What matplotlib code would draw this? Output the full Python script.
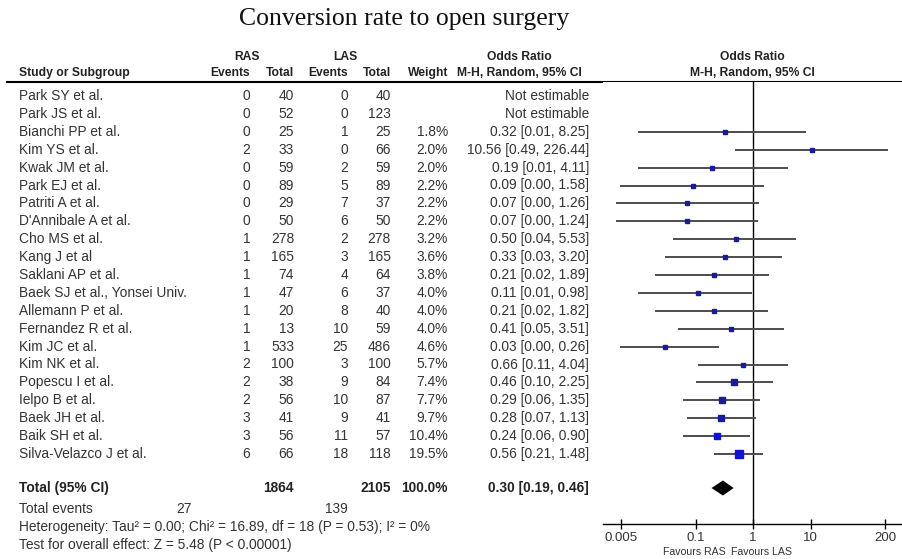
import numpy as np
import matplotlib
matplotlib.use("Agg")
import matplotlib.pyplot as plt
import matplotlib.transforms as mtransforms

studies = ["Park SY et al.", "Park JS et al.", "Bianchi PP et al.", "Kim YS et al.",
           "Kwak JM et al.", "Park EJ et al.", "Patriti A et al.", "D'Annibale A et al.",
           "Cho MS et al.", "Kang J et al", "Saklani AP et al.", "Baek SJ et al., Yonsei Univ.",
           "Allemann P et al.", "Fernandez R et al.", "Kim JC et al.", "Kim NK et al.",
           "Popescu I et al.", "Ielpo B et al.", "Baek JH et al.", "Baik SH et al.",
           "Silva-Velazco J et al."]
ras_events = [0, 0, 0, 2, 0, 0, 0, 0, 1, 1, 1, 1, 1, 1, 1, 2, 2, 2, 3, 3, 6]
ras_total = [40, 52, 25, 33, 59, 89, 29, 50, 278, 165, 74, 47, 20, 13, 533, 100, 38, 56, 41, 56, 66]
las_events = [0, 0, 1, 0, 2, 5, 7, 6, 2, 3, 4, 6, 8, 10, 25, 3, 9, 10, 9, 11, 18]
las_total = [40, 123, 25, 66, 59, 89, 37, 50, 278, 165, 64, 37, 40, 59, 486, 100, 84, 87, 41, 57, 118]
weights = [np.nan, np.nan, 1.8, 2.0, 2.0, 2.2, 2.2, 2.2, 3.2, 3.6, 3.8, 4.0, 4.0, 4.0, 4.6, 5.7,
           7.4, 7.7, 9.7, 10.4, 19.5]
odds = [np.nan, np.nan, 0.32, 10.56, 0.19, 0.09, 0.07, 0.07, 0.50, 0.33, 0.21, 0.11, 0.21, 0.41,
        0.03, 0.66, 0.46, 0.29, 0.28, 0.24, 0.56]
ci_low = [np.nan, np.nan, 0.01, 0.49, 0.01, 0.0049, 0.0041, 0.0041, 0.04, 0.03, 0.02, 0.01, 0.02,
          0.05, 0.0049, 0.11, 0.10, 0.06, 0.07, 0.06, 0.21]
ci_high = [np.nan, np.nan, 8.25, 226.44, 4.11, 1.58, 1.26, 1.24, 5.53, 3.20, 1.89, 0.98, 1.82, 3.51,
           0.26, 4.04, 2.25, 1.35, 1.13, 0.90, 1.48]
pooled = (0.30, 0.19, 0.46)
heterogeneity = "Heterogeneity: Tau\u00b2 = 0.00; Chi\u00b2 = 16.89, df = 18 (P = 0.53); I\u00b2 = 0%"
overall = "Test for overall effect: Z = 5.48 (P < 0.00001)"
ticks = [0.005, 0.1, 1, 10, 200]
tick_labels = ["0.005", "0.1", "1", "10", "200"]

W, H = 902, 559
plt.rcParams["font.family"] = ["Liberation Sans", "DejaVu Sans"]
fig = plt.figure(figsize=(W / 100, H / 100), dpi=100)

# full-figure axes in pixel units for the table
tab = fig.add_axes([0, 0, 1, 1])
tab.set_xlim(0, W)
tab.set_ylim(H, 0)
tab.axis("off")

# forest panel
px_left, px_right, px_top, px_bottom = 603, 902, 82, 524
ax = fig.add_axes([px_left / W, 1 - px_bottom / H, (px_right - px_left) / W, (px_bottom - px_top) / H])
ax.set_xscale("log")
decade = 57.5
ax.set_xlim(10 ** ((px_left - 753) / decade), 10 ** ((px_right - 753) / decade))
row0, step = 96, 17.9
ax.set_ylim((px_bottom - row0) / step, (px_top - row0) / step)
for s in ["top", "left", "right"]:
    ax.spines[s].set_visible(False)
ax.spines["bottom"].set_linewidth(1.0)
ax.set_yticks([])
ax.set_xticks(ticks)
ax.set_xticklabels(tick_labels)
ax.minorticks_off()
ax.tick_params(axis="x", direction="inout", length=7, width=1.0, pad=2, labelsize=9.5,
               labelcolor="#333333")
ax.axvline(1, color="black", lw=1.0)

rows = np.arange(len(studies))
ax.hlines(rows, ci_low, ci_high, color="#4d4d4d", lw=1.4)
for i, w in enumerate(weights):
    if np.isnan(w):
        continue
    side = 1.4 * np.sqrt(w) + 1.3
    col = "#1a1aa0" if w < 10 else "#1010d8"
    ax.plot(odds[i], i, marker="s", ms=side * 0.72, color=col, mec=col, zorder=3)

total_row = 21.9
est, lo, hi = pooled
ax.fill([lo, est, hi, est], [total_row, total_row - 0.42, total_row, total_row + 0.42],
        color="black", lw=0)

trans = mtransforms.blended_transform_factory(tab.transData, ax.transData)
txt = "#333333"
fs = 9.9
for i, name in enumerate(studies):
    ax.text(19, i, name, transform=trans, ha="left", va="center", fontsize=fs, color=txt)
    ax.text(250, i, str(ras_events[i]), transform=trans, ha="right", va="center", fontsize=fs, color=txt)
    ax.text(294, i, str(ras_total[i]), transform=trans, ha="right", va="center", fontsize=fs, color=txt)
    ax.text(348, i, str(las_events[i]), transform=trans, ha="right", va="center", fontsize=fs, color=txt)
    ax.text(391, i, str(las_total[i]), transform=trans, ha="right", va="center", fontsize=fs, color=txt)
    if np.isnan(weights[i]):
        ci_txt = "Not estimable"
    else:
        ax.text(448, i, f"{weights[i]:.1f}%", transform=trans, ha="right", va="center",
                fontsize=fs, color=txt)
        ci_txt = f"{odds[i]:.2f} [{ci_low[i]:.2f}, {ci_high[i]:.2f}]"
    ax.text(589, i, ci_txt, transform=trans, ha="right", va="center", fontsize=fs, color=txt)

# totals
bold = dict(transform=trans, va="center", fontsize=fs, color="#222222", fontweight="bold")
ax.text(19, total_row, "Total (95% CI)", ha="left", **bold)
ax.text(294, total_row, str(sum(ras_total)), ha="right", **bold)
ax.text(391, total_row, str(sum(las_total)), ha="right", **bold)
ax.text(448, total_row, "100.0%", ha="right", **bold)
ax.text(589, total_row, f"{est:.2f} [{lo:.2f}, {hi:.2f}]", ha="right", **bold)
ax.text(19, 23.1, "Total events", transform=trans, ha="left", va="center", fontsize=fs, color=txt)
ax.text(192, 23.1, str(sum(ras_events)), transform=trans, ha="right", va="center", fontsize=fs, color=txt)
ax.text(348, 23.1, str(sum(las_events)), transform=trans, ha="right", va="center", fontsize=fs, color=txt)
ax.text(19, 24.1, heterogeneity, transform=trans, ha="left", va="center", fontsize=fs, color=txt)
ax.text(19, 25.1, overall, transform=trans, ha="left", va="center", fontsize=fs, color=txt)

# headers
hb = dict(fontsize=8.7, fontweight="bold", color="#222222", va="center")
tab.text(404, 19, "Conversion rate to open surgery", ha="center", va="center", fontsize=18.5,
         family="Liberation Serif", color="#111111")
tab.text(247, 57, "RAS", ha="center", **hb)
tab.text(345, 57, "LAS", ha="center", **hb)
tab.text(519, 57, "Odds Ratio", ha="center", **hb)
tab.text(752, 57, "Odds Ratio", ha="center", **hb)
tab.text(19, 73, "Study or Subgroup", ha="left", **hb)
tab.text(250, 73, "Events", ha="right", **hb)
tab.text(294, 73, "Total", ha="right", **hb)
tab.text(348, 73, "Events", ha="right", **hb)
tab.text(391, 73, "Total", ha="right", **hb)
tab.text(448, 73, "Weight", ha="right", **hb)
tab.text(519, 73, "M-H, Random, 95% CI", ha="center", **hb)
tab.text(752, 73, "M-H, Random, 95% CI", ha="center", **hb)
tab.plot([7, W], [82, 82], color="black", lw=1.5)

tab.text(726, 552, "Favours RAS", ha="right", va="center", fontsize=7.6, color=txt)
tab.text(731, 552, "Favours LAS", ha="left", va="center", fontsize=7.6, color=txt)

fig.savefig("out.png", dpi=100, facecolor="white")
